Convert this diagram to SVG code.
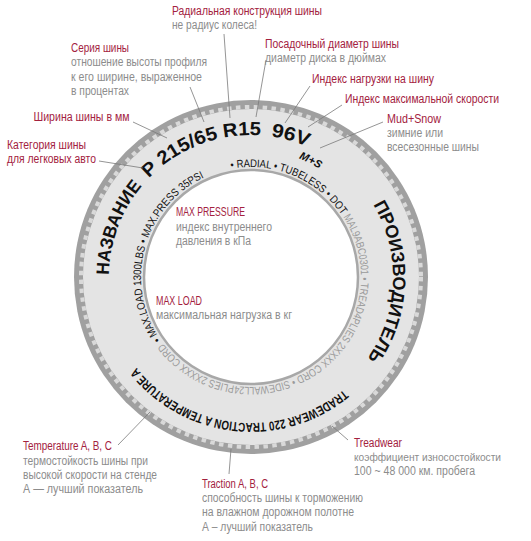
<svg xmlns="http://www.w3.org/2000/svg" width="531" height="541" viewBox="0 0 531 541">
<defs>
<style>
.lbl{font-family:"Liberation Sans",Arial,sans-serif;font-size:12.5px;fill:#a3213e}
.dsc{font-family:"Liberation Sans",Arial,sans-serif;font-size:12.5px;fill:#8c8c8c}
.big{font-family:"Liberation Sans",Arial,sans-serif;font-weight:bold;fill:#111}
.ins{font-family:"Liberation Sans",Arial,sans-serif;font-size:11px}
.ld{stroke:#7a7a7a;stroke-width:0.8;fill:none}
</style>
<path id="pB142" d="M251,419 A142,142 0 1 1 251,135 A142,142 0 1 1 251,419"/>
<path id="pT146" d="M251,131 A146,146 0 1 1 251,423 A146,146 0 1 1 251,131"/>
<path id="pB128" d="M251,405 A128,128 0 1 1 251,149 A128,128 0 1 1 251,405"/>
<path id="pB110" d="M251,387 A110,110 0 1 1 251,167 A110,110 0 1 1 251,387"/>
<path id="pT110" d="M251,167 A110,110 0 1 1 251,387 A110,110 0 1 1 251,167"/>
</defs>
<rect width="531" height="541" fill="#fff"/>
<g id="tire">
<circle cx="251" cy="277" r="177" fill="#a0a0a0"/>
<circle cx="251" cy="277" r="170" fill="none" stroke="#d9d9d9" stroke-width="4" stroke-dasharray="4.464 4.464"/>
<circle cx="251" cy="277" r="168" fill="#e4e4e4"/>
<circle cx="251" cy="277" r="107" fill="#fff" stroke="#a8a8a8" stroke-width="2.5"/>
<text class="big" font-size="19"><textPath href="#pB142" startOffset="332" textLength="124" lengthAdjust="spacingAndGlyphs">P 215/65 R15</textPath></text>
<text class="big" font-size="19"><textPath href="#pB142" startOffset="466" textLength="38" lengthAdjust="spacingAndGlyphs">96V</textPath></text>
<text class="big" font-size="11" font-style="italic"><textPath href="#pB128" startOffset="451" textLength="23" lengthAdjust="spacingAndGlyphs">M+S</textPath></text>
<text class="big" font-size="18"><textPath href="#pB142" startOffset="225" textLength="97" lengthAdjust="spacingAndGlyphs">НАЗВАНИЕ</textPath></text>
<text class="big" font-size="18"><textPath href="#pB142" startOffset="593" textLength="163" lengthAdjust="spacingAndGlyphs">ПРОИЗВОДИТЕЛЬ</textPath></text>
<text class="big" font-size="13"><textPath href="#pT146" startOffset="358" textLength="232" lengthAdjust="spacingAndGlyphs">TRADEWEAR 220 TRACTION A TEMPERATURE A</textPath></text>
<text class="ins" fill="#111"><textPath href="#pB110" startOffset="325" textLength="127" lengthAdjust="spacingAndGlyphs">• RADIAL • TUBELESS • DOT</textPath></text>
<text class="ins" fill="#9a9a9a"><textPath href="#pT110" startOffset="109" textLength="338" lengthAdjust="spacingAndGlyphs">MAL9ABC0301 • TREAD4PLIES 2XXXX CORD • SIDEWALL24PLIES 2XXXX CORD</textPath></text>
<text class="ins" fill="#111"><textPath href="#pT110" startOffset="451" textLength="191" lengthAdjust="spacingAndGlyphs">• MAX.LOAD 1300LBS • MAX.PRESS 35PSI</textPath></text>
</g>
<g id="connectors">
<line class="ld" x1="224" y1="34" x2="230" y2="118"/>
<line class="ld" x1="190" y1="87" x2="204" y2="122"/>
<line class="ld" x1="133" y1="122" x2="167" y2="138"/>
<line class="ld" x1="99" y1="161" x2="143" y2="168"/>
<line class="ld" x1="266" y1="60" x2="256" y2="117"/>
<line class="ld" x1="310" y1="86" x2="285" y2="123"/>
<line class="ld" x1="342" y1="105" x2="308" y2="127"/>
<line class="ld" x1="383" y1="122" x2="320" y2="148"/>
<line class="ld" x1="118" y1="445" x2="150" y2="412"/>
<line class="ld" x1="231" y1="449" x2="229" y2="474"/>
<line class="ld" x1="332" y1="426" x2="348" y2="440"/>
</g>
<g id="n-radial">
<text class="lbl" x="172" y="15" textLength="150" lengthAdjust="spacingAndGlyphs">Радиальная конструкция шины</text>
<text class="dsc" x="172" y="29" textLength="85" lengthAdjust="spacingAndGlyphs">не радиус колеса!</text>
</g>
<g id="n-series">
<text class="lbl" x="71" y="52" textLength="58" lengthAdjust="spacingAndGlyphs">Серия шины</text>
<text class="dsc" x="71" y="66" textLength="136" lengthAdjust="spacingAndGlyphs">отношение высоты профиля</text>
<text class="dsc" x="71" y="80.5" textLength="131" lengthAdjust="spacingAndGlyphs">к его ширине, выраженное</text>
<text class="dsc" x="71" y="94.5" textLength="58" lengthAdjust="spacingAndGlyphs">в процентах</text>
</g>
<g id="n-width">
<text class="lbl" x="33.5" y="121" textLength="96" lengthAdjust="spacingAndGlyphs">Ширина шины в мм</text>
</g>
<g id="n-category">
<text class="lbl" x="7" y="149" textLength="79" lengthAdjust="spacingAndGlyphs">Категория шины</text>
<text class="lbl" x="7" y="163" textLength="89" lengthAdjust="spacingAndGlyphs">для легковых авто</text>
</g>
<g id="n-diameter">
<text class="lbl" x="265" y="48" textLength="134" lengthAdjust="spacingAndGlyphs">Посадочный диаметр шины</text>
<text class="dsc" x="265" y="62" textLength="121" lengthAdjust="spacingAndGlyphs">диаметр диска в дюймах</text>
</g>
<g id="n-load">
<text class="lbl" x="312" y="83" textLength="122" lengthAdjust="spacingAndGlyphs">Индекс нагрузки на шину</text>
</g>
<g id="n-speed">
<text class="lbl" x="345" y="103" font-size="12" style="font-size:12px" textLength="154" lengthAdjust="spacingAndGlyphs">Индекс максимальной скорости</text>
</g>
<g id="n-mudsnow">
<text class="lbl" x="387" y="123" textLength="54" lengthAdjust="spacingAndGlyphs">Mud+Snow</text>
<text class="dsc" x="387" y="137" textLength="56" lengthAdjust="spacingAndGlyphs">зимние или</text>
<text class="dsc" x="387" y="151" textLength="92" lengthAdjust="spacingAndGlyphs">всесезонные шины</text>
</g>
<g id="n-maxpressure">
<text class="lbl" x="176" y="216" textLength="69" lengthAdjust="spacingAndGlyphs">MAX PRESSURE</text>
<text class="dsc" x="176" y="231" textLength="96" lengthAdjust="spacingAndGlyphs">индекс внутреннего</text>
<text class="dsc" x="176" y="245" textLength="75" lengthAdjust="spacingAndGlyphs">давления в кПа</text>
</g>
<g id="n-maxload">
<text class="lbl" x="156" y="305" textLength="46" lengthAdjust="spacingAndGlyphs">MAX LOAD</text>
<text class="dsc" x="156" y="319" textLength="136" lengthAdjust="spacingAndGlyphs">максимальная нагрузка в кг</text>
</g>
<g id="n-temperature">
<text class="lbl" x="23" y="450" textLength="89" lengthAdjust="spacingAndGlyphs">Temperature A, B, C</text>
<text class="dsc" x="23" y="465" textLength="125" lengthAdjust="spacingAndGlyphs">термостойкость шины при</text>
<text class="dsc" x="23" y="479" textLength="134" lengthAdjust="spacingAndGlyphs">высокой скорости на стенде</text>
<text class="dsc" x="23" y="493" textLength="120" lengthAdjust="spacingAndGlyphs">А — лучший показатель</text>
</g>
<g id="n-traction">
<text class="lbl" x="202" y="488" textLength="66" lengthAdjust="spacingAndGlyphs">Traction A, B, C</text>
<text class="dsc" x="202" y="502" textLength="161" lengthAdjust="spacingAndGlyphs">способность шины к торможению</text>
<text class="dsc" x="202" y="516" textLength="152" lengthAdjust="spacingAndGlyphs">на влажном дорожном полотне</text>
<text class="dsc" x="202" y="531" textLength="111" lengthAdjust="spacingAndGlyphs">А – лучший показатель</text>
</g>
<g id="n-treadwear">
<text class="lbl" x="354" y="447" textLength="48" lengthAdjust="spacingAndGlyphs">Treadwear</text>
<text class="dsc" x="354" y="461" style="font-size:11.5px" textLength="147" lengthAdjust="spacingAndGlyphs">коэффициент износостойкости</text>
<text class="dsc" x="354" y="475" textLength="121" lengthAdjust="spacingAndGlyphs">100 ~ 48 000 км. пробега</text>
</g>
</svg>
